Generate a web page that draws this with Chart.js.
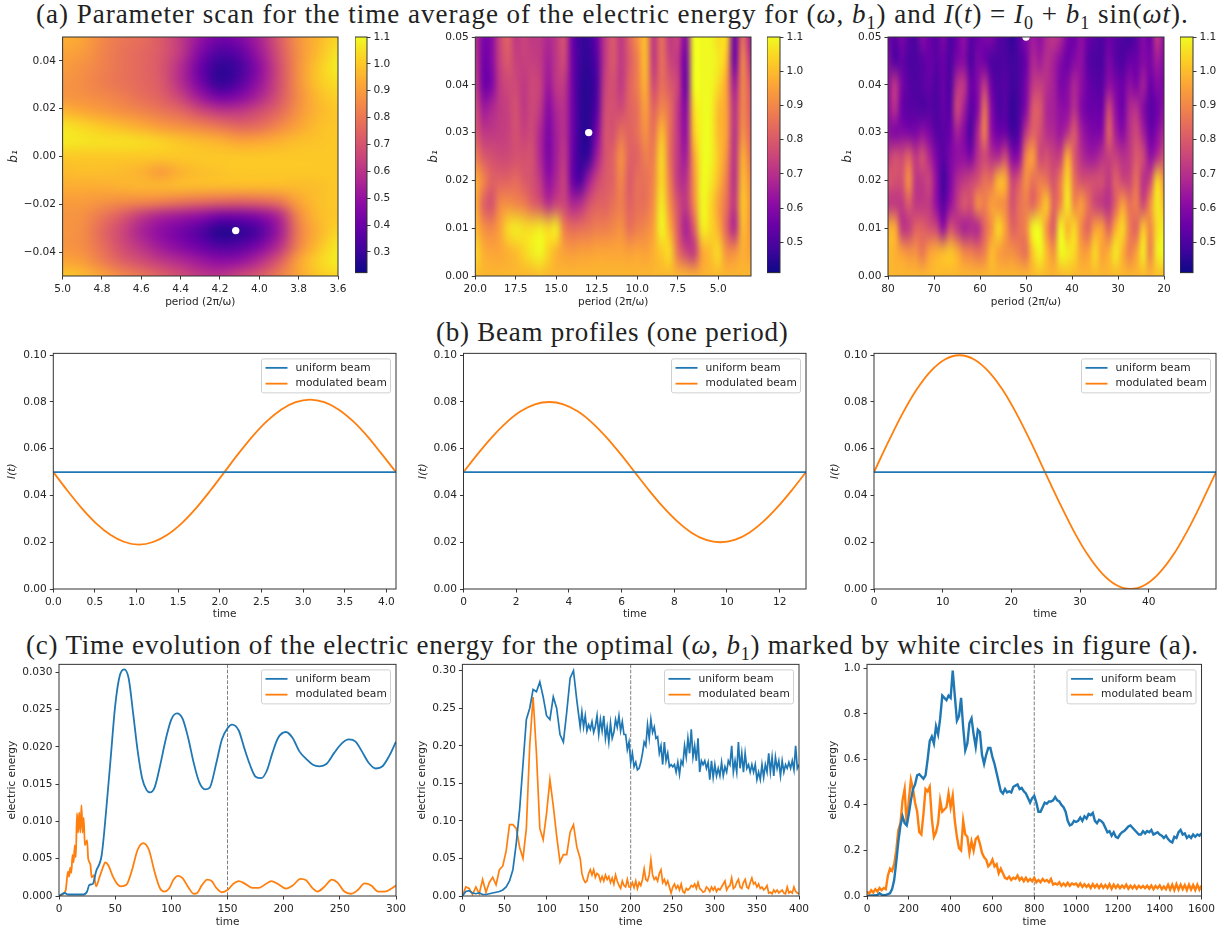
<!DOCTYPE html>
<html>
<head>
<meta charset="utf-8">
<title>Parameter scan and beam profiles</title>
<script src="https://cdn.jsdelivr.net/npm/chart.js@4"></script>
<style>
  html, body { margin: 0; background: #fff; }
  body { position: relative; width: 1231px; height: 934px; overflow: hidden; }
  canvas { position: absolute; }
  .heading {
    position: absolute; white-space: nowrap; color: #222;
    font-family: "Liberation Serif", serif; font-size: 27px; line-height: 30px;
  }
  .heading sub { font-size: 18px; line-height: 0; }
</style>
</head>
<body>
<div class="heading" id="title-a" style="left:36px;top:-1px;letter-spacing:0.99px">(a) Parameter scan for the time average of the electric energy for (<i>ω</i>, <i>b</i><sub>1</sub>) and <i>I</i>(<i>t</i>) = <i>I</i><sub>0</sub> + <i>b</i><sub>1</sub> sin(<i>ωt</i>).</div>
<div class="heading" id="title-b" style="left:436px;top:317px;letter-spacing:0.75px">(b) Beam profiles (one period)</div>
<div class="heading" id="title-c" style="left:26px;top:630px;letter-spacing:0.79px">(c) Time evolution of the electric energy for the optimal (<i>ω</i>, <i>b</i><sub>1</sub>) marked by white circles in figure (a).</div>

<script>
// --- (a) parameter scans, energy values in hundredths, rows run from the top of the plot down
const scan1Periods = [5.0,4.9,4.8,4.7,4.6,4.5,4.4,4.3,4.2,4.1,4.0,3.9,3.8,3.7,3.6];
const scan1Amps = [0.05,0.04375,0.0375,0.03125,0.025,0.01875,0.0125,0.00625,0,-0.00625,-0.0125,-0.01875,-0.025,-0.03125,-0.0375,-0.04375,-0.05];
const scan1Energy = [
  [95,92,85,80,78,72,62,50,42,45,55,72,88,96,103],
  [92,90,84,79,76,72,62,45,34,38,52,70,87,97,106],
  [90,87,83,79,76,71,58,40,28,32,48,68,87,100,108],
  [88,86,82,79,76,72,58,42,28,35,50,68,87,100,105],
  [88,87,85,82,78,74,65,52,42,46,56,70,86,97,102],
  [96,93,90,87,84,80,76,68,62,62,68,76,88,96,100],
  [106,103,100,97,94,90,87,84,80,76,78,85,92,98,100],
  [107,106,105,105,104,102,99,97,95,92,93,95,98,99,100],
  [100,100,100,100,100,100,100,100,100,100,100,100,100,100,100],
  [97,98,98,97,95,90,95,98,99,100,100,100,100,100,100],
  [94,94,94,95,96,96,97,97,97,97,97,97,97,98,100],
  [90,90,88,86,85,83,80,78,76,75,76,80,92,98,100],
  [88,87,80,72,62,55,52,48,42,42,46,56,85,97,100],
  [88,86,76,66,55,48,42,35,26,28,34,52,82,95,103],
  [88,86,78,68,60,52,46,40,34,36,44,58,84,98,107],
  [92,90,82,74,68,62,57,52,48,50,58,72,92,102,108],
  [100,97,92,85,80,74,68,62,60,66,72,82,92,100,103]
];

const scan2Periods = [20,19.5,19,18.5,18,17.5,17,16.5,16,15.5,15,14.5,14,13.5,13,12.5,12,11.5,11,10.5,10,9.5,9,8.5,8,7.5,7,6.5,6,5.5,5,4.5,4,3.5,3];
const scan2Amps = [0.05,0.045,0.04,0.035,0.03,0.025,0.02,0.015,0.01,0.005,0];
const scan2Energy = [
  [70,58,60,75,82,72,75,72,72,68,72,78,55,47,47,55,72,80,72,82,92,100,72,85,72,75,60,110,110,110,105,105,55,85,65],
  [72,56,60,74,80,74,74,74,72,66,72,76,56,47,46,52,72,80,72,80,88,100,72,85,75,72,56,110,110,110,108,100,55,90,70],
  [74,56,58,72,76,76,72,76,74,64,72,72,56,46,45,50,74,78,72,82,88,98,76,85,80,75,55,110,110,110,105,95,65,90,78],
  [78,65,68,72,74,78,72,76,72,60,68,70,56,46,45,52,76,78,76,82,85,95,82,90,85,72,60,105,110,110,100,95,70,90,80],
  [80,72,72,73,74,78,74,76,68,58,66,70,56,46,45,58,78,78,85,82,85,92,85,100,85,72,62,102,110,110,100,95,70,92,82],
  [88,80,78,76,76,78,78,78,68,58,66,72,55,46,47,65,78,82,92,82,82,88,88,105,85,72,65,95,110,110,102,92,70,98,85],
  [98,90,82,82,82,84,80,78,72,62,68,74,55,50,65,75,80,82,90,80,85,85,90,105,88,72,70,92,110,108,100,88,70,100,90],
  [98,82,78,90,92,90,88,82,78,70,75,75,68,70,78,82,82,85,88,82,85,85,92,108,92,78,72,90,110,105,95,85,72,102,92],
  [100,92,90,95,105,108,106,106,108,105,108,88,84,85,86,88,88,90,92,85,88,90,95,110,98,80,66,80,108,105,98,82,68,100,92],
  [105,98,96,96,98,100,104,108,110,104,98,95,94,95,95,96,96,96,96,95,96,95,98,102,105,85,75,72,95,100,105,92,92,98,95],
  [100,99,99,99,99,99,99,99,100,99,99,99,99,99,99,99,99,99,99,99,99,99,99,99,99,99,99,98,98,99,99,99,99,99,99]
];

const scan3Periods = [80,78.5,77,75.5,74,72.5,71,69.5,68,66.5,65,63.5,62,60.5,59,57.5,56,54.5,53,51.5,50,48.5,47,45.5,44,42.5,41,39.5,38,36.5,35,33.5,32,30.5,29,27.5,26,24.5,23,21.5,20];
const scan3Amps = [0.05,0.045,0.04,0.035,0.03,0.025,0.02,0.015,0.01,0.005,0];
const scan3Energy = [
  [56,52,58,52,50,60,55,52,58,50,55,62,52,55,58,58,52,50,46,52,60,65,62,68,72,68,58,55,62,55,52,50,55,52,50,48,52,60,55,72,62],
  [60,50,54,50,50,52,55,52,55,50,58,60,50,58,55,50,50,50,48,50,55,68,65,70,66,60,55,60,62,52,50,50,58,52,50,55,55,60,58,65,60],
  [62,72,58,52,50,52,54,50,55,50,70,72,55,60,72,55,50,52,48,50,58,72,74,70,66,58,60,68,62,55,52,52,62,58,55,62,58,66,55,60,58],
  [62,70,55,52,52,50,52,50,54,52,76,66,52,60,85,60,50,52,46,50,60,80,80,68,66,62,62,70,60,55,55,55,76,62,55,68,70,60,52,55,62],
  [62,58,60,58,58,62,58,52,52,55,66,60,50,68,88,62,55,55,48,52,72,82,78,70,68,64,70,80,66,60,58,60,82,66,60,70,76,66,55,60,68],
  [72,78,76,82,72,78,68,58,52,58,62,62,58,70,76,70,68,76,60,62,90,95,76,78,74,74,98,80,70,65,65,70,74,74,70,72,80,76,62,68,78],
  [80,78,78,92,72,72,75,62,48,58,68,72,75,78,85,85,100,98,75,80,92,85,88,85,78,88,105,85,78,78,78,78,72,82,75,75,85,70,75,105,92],
  [72,72,72,80,72,72,72,62,52,62,72,80,78,92,88,95,92,90,78,85,88,82,92,102,82,90,108,90,95,85,75,72,70,82,95,85,88,75,92,108,100],
  [98,98,72,72,82,82,78,75,62,78,72,66,68,68,82,92,105,95,82,85,90,110,110,92,80,110,98,105,90,82,95,95,82,98,105,88,82,102,90,105,108],
  [100,98,95,92,92,86,95,98,100,102,98,90,88,85,88,100,95,92,92,88,85,102,110,100,92,110,108,105,95,95,105,95,98,108,98,88,95,108,88,108,110],
  [99,99,99,99,99,99,99,100,99,99,99,99,99,99,99,99,99,99,99,99,99,99,100,99,99,99,100,99,99,99,99,99,99,99,99,99,99,99,99,100,100]
];

const optimalPeriod = [4.12, 13, 50];
const optimalAmp = [-0.031, 0.03, 0.05];
const scanColorMin = [0.2227, 0.411, 0.411];
const colorTicks1 = [0.3,0.4,0.5,0.6,0.7,0.8,0.9,1.0,1.1];
const colorTicks2 = [0.5,0.6,0.7,0.8,0.9,1.0,1.1];
const plasmaStops = ['#0d0887','#41049d','#6a00a8','#8f0da4','#b12a90','#cc4778','#e16462','#f1844b','#fca636','#fcce25','#f0f921'];

// --- (b) beam profiles over one period
const profileTime1 = [0,0.171,0.343,0.514,0.685,0.856,1.028,1.199,1.37,1.541,1.713,1.884,2.055,2.226,2.398,2.569,2.74,2.911,3.083,3.254,3.425,3.596,3.768,3.939,4.116];
const profileBeam1 = [0.05,0.042,0.0345,0.0281,0.0232,0.0201,0.019,0.0201,0.0232,0.0281,0.0345,0.042,0.05,0.058,0.0655,0.0719,0.0768,0.0799,0.081,0.0799,0.0768,0.0719,0.0655,0.058,0.05];
const profileTime2 = [0,0.542,1.083,1.625,2.167,2.708,3.25,3.792,4.333,4.875,5.417,5.958,6.5,7.042,7.583,8.125,8.667,9.208,9.75,10.292,10.833,11.375,11.917,12.458,13];
const profileBeam2 = [0.05,0.0578,0.065,0.0712,0.076,0.079,0.08,0.079,0.076,0.0712,0.065,0.0578,0.05,0.0422,0.035,0.0288,0.024,0.021,0.02,0.021,0.024,0.0288,0.035,0.0422,0.05];
const profileTime3 = [0,2.08,4.15,6.23,8.3,10.38,12.45,14.53,16.6,18.68,20.75,22.83,24.9,26.98,29.05,31.13,33.2,35.28,37.35,39.43,41.5,43.58,45.65,47.73,49.8];
const profileBeam3 = [0.05,0.0629,0.075,0.0854,0.0933,0.0983,0.1,0.0983,0.0933,0.0854,0.075,0.0629,0.05,0.0371,0.025,0.0146,0.0067,0.0017,0,0.0017,0.0067,0.0146,0.025,0.0371,0.05];
const uniformCurrent = [0.05, 0.05];

// --- (c) electric energy over time
const energy1UniformT = [0,5,8,15,22,25,27,30,33,38,42,46,50,54,58,62,66,70,74,78,81,85,90,95,100,105,110,115,120,125,130,134,140,145,150,154,160,165,170,175,180,185,190,195,202,208,214,220,226,232,238,245,252,258,264,270,276,282,288,294,300];
const energy1Uniform = [0,0.0004,0.0002,0.0002,0.0002,0.0006,0.0015,0.0016,0.0033,0.0055,0.0115,0.0185,0.0255,0.0295,0.0304,0.0292,0.0245,0.0195,0.0158,0.0142,0.0139,0.0145,0.0175,0.021,0.0237,0.0245,0.0238,0.0212,0.0178,0.0152,0.0143,0.0145,0.0178,0.021,0.0225,0.023,0.0222,0.0198,0.0176,0.016,0.0158,0.0168,0.0192,0.0212,0.022,0.0212,0.0194,0.0184,0.0176,0.0174,0.0177,0.0192,0.0205,0.021,0.0207,0.0193,0.0178,0.0171,0.0174,0.0188,0.0207];
const energy1ModulatedT = [0,3,6,8,9,10,11,12,13,14,15,16,17,18,19,20,21,22,23,25,26,28,29,31,33,36,40,41,44,48,52,55,60,65,70,75,80,85,90,94,98,102,106,110,115,120,123,127,132,136,140,145,150,155,160,165,172,178,184,189,195,202,208,215,220,226,230,236,243,248,254,260,266,272,278,284,290,296,300];
const energy1Modulated = [0,0.0002,0.0008,0.0033,0.0026,0.0038,0.0031,0.0055,0.0045,0.0068,0.0052,0.0111,0.0085,0.0112,0.0085,0.0122,0.0085,0.0105,0.0068,0.0075,0.005,0.0042,0.0025,0.0028,0.0013,0.0025,0.0042,0.0045,0.0041,0.0026,0.0016,0.0013,0.0015,0.0035,0.0062,0.0071,0.0062,0.0033,0.001,0.0006,0.001,0.0022,0.0027,0.0024,0.0012,0.0003,0.0004,0.0014,0.0022,0.002,0.0011,0.0005,0.0008,0.0016,0.002,0.0017,0.0011,0.0011,0.0016,0.002,0.0016,0.001,0.0014,0.0023,0.0021,0.001,0.0006,0.0012,0.0022,0.0018,0.0006,0.0003,0.0008,0.0017,0.0014,0.0006,0.0006,0.001,0.0014];

const energy2Time = [0,4,8,12,16,20,24,28,32,36,40,44,48,52,56,60,64,68,72,76,80,84,88,92,96,100,104,108,112,116,120,124,128,132,136,140,142,144,146,148,150,152,154,156,158,160,162,164,166,168,170,172,174,176,178,180,182,184,186,188,190,192,194,196,198,200,202,204,206,208,210,212,214,216,218,220,222,224,226,228,230,232,234,236,238,240,242,244,246,248,250,252,254,256,258,260,262,264,266,268,270,272,274,276,278,280,282,284,286,288,290,292,294,296,298,300,302,304,306,308,310,312,314,316,318,320,322,324,326,328,330,332,334,336,338,340,342,344,346,348,350,352,354,356,358,360,362,364,366,368,370,372,374,376,378,380,382,384,386,388,390,392,394,396,398,400];
const energy2Uniform = [0,0.006,0.007,0.004,0.003,0.004,0.002,0.002,0.003,0.004,0.005,0.006,0.008,0.012,0.02,0.035,0.07,0.115,0.175,0.235,0.25,0.275,0.272,0.285,0.265,0.24,0.235,0.265,0.25,0.215,0.205,0.245,0.29,0.3,0.26,
  0.225,0.245,0.225,0.24,0.22,0.228,0.222,0.232,0.218,0.226,0.24,0.215,0.235,0.22,0.24,0.21,0.225,0.205,0.23,0.21,0.218,0.235,0.225,0.24,0.22,0.232,0.215,0.215,0.195,0.205,0.178,0.19,0.172,0.178,0.168,0.17,0.178,0.19,0.205,0.2,0.228,0.21,0.235,0.218,0.225,0.21,0.212,0.19,0.2,0.175,0.205,0.18,0.19,0.172,0.175,0.172,0.175,0.165,0.178,0.162,0.18,0.175,0.2,0.185,0.21,0.19,0.222,0.185,0.2,0.18,0.21,0.165,0.18,0.175,0.18,0.17,0.178,0.155,0.18,0.158,0.175,0.16,0.17,0.16,0.178,0.16,0.172,0.165,0.18,0.175,0.2,0.165,0.18,0.165,0.205,0.17,0.19,0.165,0.19,0.17,0.175,0.165,0.175,0.165,0.175,0.155,0.165,0.155,0.175,0.158,0.175,0.165,0.19,0.165,0.185,0.16,0.185,0.17,0.18,0.16,0.18,0.165,0.175,0.17,0.178,0.17,0.18,0.168,0.2,0.17,0.175];
const energy2Modulated = [0,0.012,0.01,0.002,0.012,0.003,0.022,0.005,0.018,0.025,0.015,0.035,0.04,0.06,0.095,0.095,0.09,0.065,0.05,0.09,0.2,0.265,0.19,0.09,0.075,0.11,0.155,0.12,0.08,0.045,0.055,0.055,0.085,0.095,0.065,
  0.05,0.03,0.022,0.018,0.02,0.03,0.035,0.028,0.035,0.025,0.03,0.028,0.02,0.026,0.02,0.028,0.022,0.026,0.018,0.024,0.016,0.028,0.02,0.014,0.01,0.02,0.014,0.012,0.022,0.012,0.012,0.018,0.011,0.02,0.01,0.018,0.014,0.022,0.036,0.022,0.02,0.028,0.048,0.028,0.022,0.025,0.02,0.03,0.035,0.018,0.022,0.015,0.02,0.012,0.004,0.012,0.016,0.01,0.014,0.008,0.016,0.006,0.004,0.01,0.008,0.01,0.014,0.012,0.016,0.01,0.018,0.01,0.008,0.005,0.006,0.012,0.01,0.006,0.012,0.008,0.012,0.006,0.01,0.008,0.012,0.016,0.02,0.008,0.012,0.014,0.024,0.01,0.012,0.018,0.022,0.012,0.01,0.018,0.022,0.012,0.01,0.018,0.024,0.016,0.018,0.012,0.016,0.01,0.012,0.008,0.01,0.014,0.004,0.005,0.003,0.008,0.005,0.008,0.004,0.006,0.008,0.004,0.003,0.012,0.004,0.006,0.004,0.012,0.006,0.004,0.003];

const energy3Time = [0,10,20,30,40,50,60,70,80,90,100,110,120,130,140,150,160,170,180,190,200,210,220,230,240,250,260,270,280,290,300,310,320,330,340,350,360,370,380,390,400,410,420,430,440,450,460,470,480,490,500,510,520,530,540,550,560,570,580,590,600,610,620,630,640,650,660,670,680,690,700,710,720,730,740,750,760,770,780,790,800,810,820,830,840,850,860,870,880,890,900,910,920,930,940,950,960,970,980,990,1000,1010,1020,1030,1040,1050,1060,1070,1080,1090,1100,1110,1120,1130,1140,1150,1160,1170,1180,1190,1200,1210,1220,1230,1240,1250,1260,1270,1280,1290,1300,1310,1320,1330,1340,1350,1360,1370,1380,1390,1400,1410,1420,1430,1440,1450,1460,1470,1480,1490,1500,1510,1520,1530,1540,1550,1560,1570,1580,1590,1600];
const energy3Uniform = [0,0,0.002,0.002,0.003,0.005,0.012,0.006,0.004,0.005,0.008,0.012,0.03,0.07,0.15,0.24,0.31,0.35,0.32,0.31,0.36,0.42,0.47,0.49,0.53,0.535,0.525,0.515,0.53,0.6,0.68,0.7,0.67,0.745,0.71,0.78,0.88,0.87,0.86,0.88,0.87,0.99,0.88,0.77,0.79,0.87,0.74,0.64,0.67,0.76,0.78,0.71,0.655,0.73,0.72,0.62,0.58,0.62,0.65,0.65,0.61,0.58,0.54,0.5,0.46,0.45,0.47,0.455,0.46,0.455,0.48,0.485,0.49,0.47,0.475,0.46,0.45,0.43,0.41,0.43,0.44,0.41,0.37,0.37,0.39,0.41,0.405,0.415,0.415,0.42,0.435,0.42,0.415,0.4,0.39,0.37,0.33,0.31,0.315,0.33,0.325,0.33,0.345,0.33,0.35,0.34,0.36,0.355,0.365,0.33,0.32,0.335,0.33,0.32,0.3,0.28,0.285,0.265,0.28,0.26,0.255,0.27,0.28,0.285,0.295,0.305,0.31,0.3,0.29,0.28,0.27,0.27,0.285,0.275,0.285,0.28,0.29,0.27,0.275,0.28,0.27,0.265,0.255,0.265,0.25,0.24,0.235,0.26,0.255,0.28,0.29,0.27,0.275,0.255,0.265,0.255,0.27,0.26,0.27,0.265,0.275];
const energy3Modulated = [0.02,0.01,0.025,0.015,0.03,0.02,0.035,0.025,0.035,0.03,0.09,0.12,0.11,0.14,0.2,0.29,0.32,0.42,0.47,0.31,0.42,0.51,0.47,0.41,0.37,0.28,0.27,0.36,0.47,0.46,0.48,0.34,0.26,0.28,0.32,0.42,0.37,0.38,0.39,0.45,0.39,0.44,0.33,0.26,0.21,0.2,0.33,0.27,0.26,0.19,0.24,0.2,0.25,0.26,0.23,0.19,0.17,0.16,0.13,0.14,0.16,0.13,0.14,0.1,0.12,0.1,0.08,0.075,0.085,0.07,0.08,0.075,0.09,0.07,0.08,0.065,0.08,0.065,0.075,0.065,0.08,0.06,0.07,0.06,0.075,0.065,0.07,0.06,0.075,0.05,0.055,0.05,0.06,0.045,0.055,0.045,0.058,0.045,0.055,0.05,0.055,0.042,0.055,0.04,0.052,0.04,0.05,0.035,0.052,0.038,0.05,0.035,0.05,0.036,0.048,0.035,0.052,0.032,0.05,0.036,0.048,0.034,0.046,0.036,0.05,0.032,0.045,0.034,0.046,0.032,0.045,0.036,0.044,0.034,0.045,0.032,0.046,0.03,0.044,0.034,0.046,0.03,0.042,0.03,0.05,0.028,0.05,0.026,0.052,0.028,0.05,0.03,0.048,0.026,0.05,0.028,0.048,0.026,0.05,0.028,0.046,0.03,0.04];

const marker1 = 150, marker2 = 200, marker3 = 800;
const blue = '#1f77b4', orange = '#ff7f0e', axisFont = 'DejaVu Sans', textColor = '#262626';

function plasma(t) {
  const pos = Math.min(Math.max(t, 0), 1) * (plasmaStops.length - 1);
  const i = Math.min(Math.floor(pos), plasmaStops.length - 2);
  const a = parseInt(plasmaStops[i].slice(1), 16), b = parseInt(plasmaStops[i + 1].slice(1), 16);
  const f = pos - i;
  const mix = s => Math.round(((a >> s) & 255) * (1 - f) + ((b >> s) & 255) * f);
  return [mix(16), mix(8), mix(0)];
}

function fmt(v, digits) {
  return v.toFixed(digits).replace('-', '\u2212');
}

function zip(xs, ys) {
  return ys.map((y, i) => ({ x: xs[i], y }));
}

function axis(opts) {
  const cfg = {
    type: 'linear',
    min: opts.min, max: opts.max, reverse: !!opts.reverse,
    position: opts.position,
    afterBuildTicks: s => { s.ticks = opts.ticks.map(v => ({ value: v })); },
    afterFit: s => { if (opts.fit) { if (s.isHorizontal()) s.height = opts.fit; else s.width = opts.fit; } },
    ticks: {
      autoSkip: false, maxRotation: 0, padding: 3, color: textColor,
      font: { family: axisFont, size: 10.6 },
      callback: v => fmt(v, opts.digits)
    },
    grid: { drawOnChartArea: false, drawTicks: true, tickLength: 3.5, color: '#222', lineWidth: 0.9 },
    border: { display: false }
  };
  if (opts.title) {
    cfg.title = {
      display: true, text: opts.title, color: textColor, padding: 0,
      font: { family: axisFont, size: opts.titleSize || 10.5, style: opts.titleItalic ? 'italic' : 'normal' }
    };
  }
  return cfg;
}

const framePlugin = {
  id: 'frame',
  afterDatasetsDraw(chart) {
    const a = chart.chartArea, ctx = chart.ctx;
    ctx.save();
    ctx.strokeStyle = '#333';
    ctx.lineWidth = 1;
    ctx.strokeRect(a.left, a.top, a.right - a.left, a.bottom - a.top);
    ctx.restore();
  }
};

const legendPlugin = {
  id: 'beamLegend',
  afterDatasetsDraw(chart) {
    const a = chart.chartArea, ctx = chart.ctx;
    const w = 129, h = 34, left = a.right - 5.5 - w, top = a.top + 5.5;
    ctx.save();
    ctx.beginPath();
    ctx.roundRect(left, top, w, h, 2);
    ctx.fillStyle = 'rgba(255,255,255,0.8)';
    ctx.fill();
    ctx.strokeStyle = '#d0d0d0';
    ctx.lineWidth = 1;
    ctx.stroke();
    ctx.font = '10.7px "DejaVu Sans"';
    ctx.textBaseline = 'middle';
    chart.data.datasets.filter(d => d.label).forEach((d, i) => {
      const y = top + 9 + i * 15.8;
      ctx.strokeStyle = d.borderColor;
      ctx.lineWidth = 1.8;
      ctx.beginPath();
      ctx.moveTo(left + 4, y);
      ctx.lineTo(left + 26, y);
      ctx.stroke();
      ctx.fillStyle = textColor;
      ctx.fillText(d.label, left + 34, y);
    });
    ctx.restore();
  }
};

// paints the energy grid through the chart scales, smoothed like imshow
function heatPlugin(periods, amps, energy, vmin, vmax) {
  const off = document.createElement('canvas');
  off.width = periods.length;
  off.height = amps.length;
  const offCtx = off.getContext('2d');
  const img = offCtx.createImageData(off.width, off.height);
  energy.forEach((row, r) => row.forEach((v, c) => {
    const rgb = plasma((v / 100 - vmin) / (vmax - vmin));
    const k = (r * off.width + c) * 4;
    img.data[k] = rgb[0]; img.data[k + 1] = rgb[1]; img.data[k + 2] = rgb[2]; img.data[k + 3] = 255;
  }));
  offCtx.putImageData(img, 0, 0);
  return {
    id: 'heat',
    beforeDatasetsDraw(chart) {
      const a = chart.chartArea, ctx = chart.ctx;
      const x = chart.scales.x, y = chart.scales.y;
      const dx = (periods[1] - periods[0]) / 2, dy = (amps[1] - amps[0]) / 2;
      const x0 = x.getPixelForValue(periods[0] - dx), x1 = x.getPixelForValue(periods[periods.length - 1] + dx);
      const y0 = y.getPixelForValue(amps[0] - dy), y1 = y.getPixelForValue(amps[amps.length - 1] + dy);
      ctx.save();
      ctx.beginPath();
      ctx.rect(a.left, a.top, a.right - a.left, a.bottom - a.top);
      ctx.clip();
      ctx.imageSmoothingEnabled = true;
      ctx.imageSmoothingQuality = 'high';
      ctx.drawImage(off, x0, y0, x1 - x0, y1 - y0);
      ctx.restore();
    }
  };
}

function colorbarPlugin(vmin, vmax) {
  return {
    id: 'colorbar',
    beforeDatasetsDraw(chart) {
      const a = chart.chartArea, ctx = chart.ctx, y = chart.scales.y;
      for (let p = Math.floor(a.top); p < a.bottom; p++) {
        const rgb = plasma((y.getValueForPixel(p + 0.5) - vmin) / (vmax - vmin));
        ctx.fillStyle = 'rgb(' + rgb.join(',') + ')';
        ctx.fillRect(a.left, p, a.right - a.left, 1);
      }
    }
  };
}

// pad.inner: space kept free by layout padding rather than by a fitted axis
function panel(rect, pad, config) {
  const canvas = document.createElement('canvas');
  canvas.width = Math.round(rect.w + pad.left + pad.right);
  canvas.height = Math.round(rect.h + pad.top + pad.bottom);
  canvas.style.left = (rect.x - pad.left) + 'px';
  canvas.style.top = (rect.y - pad.top) + 'px';
  document.body.appendChild(canvas);
  config.options.responsive = false;
  config.options.animation = false;
  config.options.devicePixelRatio = 1;
  const inner = pad.inner || { right: pad.right, bottom: 0 };
  config.options.layout = { padding: { top: pad.top, right: inner.right, left: 0, bottom: inner.bottom } };
  config.options.plugins = { legend: { display: false }, tooltip: { enabled: false } };
  return new Chart(canvas, config);
}

function lineSet(label, xs, ys, color, smooth, width) {
  return {
    label, data: zip(xs, ys), showLine: true, borderColor: color, backgroundColor: color,
    borderWidth: width || 1.8, pointRadius: 0, cubicInterpolationMode: smooth ? 'monotone' : 'default'
  };
}

function markerSet(t, top) {
  return {
    data: [{ x: t, y: 0 }, { x: t, y: top }], showLine: true, borderColor: '#808080',
    borderWidth: 1, borderDash: [3.7, 1.6], pointRadius: 0
  };
}

// --- (a) row
const scanPanels = [
  { x: 62.3, w: 275.4, left: 55.6, periods: scan1Periods, amps: scan1Amps, energy: scan1Energy, xMin: 3.6, xMax: 5, xTicks: [5,4.8,4.6,4.4,4.2,4,3.8,3.6], xDigits: 1, yMin: -0.05, yMax: 0.05, yTicks: [-0.04,-0.02,0,0.02,0.04], bar: 355, barW: 12, barTicks: colorTicks1 },
  { x: 475.3, w: 275.4, left: 48.3, periods: scan2Periods, amps: scan2Amps, energy: scan2Energy, xMin: 2.98, xMax: 20, xTicks: [20,17.5,15,12.5,10,7.5,5], xDigits: 1, yMin: 0, yMax: 0.05, yTicks: [0,0.01,0.02,0.03,0.04,0.05], bar: 767.3, barW: 13, barTicks: colorTicks2 },
  { x: 887.7, w: 276, left: 47, periods: scan3Periods, amps: scan3Amps, energy: scan3Energy, xMin: 20, xMax: 80, xTicks: [80,70,60,50,40,30,20], xDigits: 0, yMin: 0, yMax: 0.05, yTicks: [0,0.01,0.02,0.03,0.04,0.05], bar: 1180, barW: 13, barTicks: colorTicks2 }
];

scanPanels.forEach((p, i) => {
  panel({ x: p.x, y: 36.5, w: p.w, h: 238.5 }, { left: p.left, right: 14, top: 10, bottom: 33 }, {
    type: 'scatter',
    data: { datasets: [{ data: [{ x: optimalPeriod[i], y: optimalAmp[i] }], pointRadius: 3.7, pointBackgroundColor: '#fff', pointBorderWidth: 0 }] },
    options: {
      scales: {
        x: axis({ min: p.xMin, max: p.xMax, reverse: true, ticks: p.xTicks, digits: p.xDigits, title: 'period (2π/ω)', fit: 33 }),
        y: axis({ min: p.yMin, max: p.yMax, ticks: p.yTicks, digits: 2, title: 'b₁', titleItalic: true, titleSize: 12, fit: p.left })
      }
    },
    plugins: [heatPlugin(p.periods, p.amps, p.energy, scanColorMin[i], 1.1), framePlugin]
  });
  panel({ x: p.bar, y: 36.5, w: p.barW, h: 238.5 }, { left: 0, right: 32, top: 10, bottom: 6, inner: { right: 0, bottom: 6 } }, {
    type: 'scatter',
    data: { datasets: [{ data: [] }] },
    options: {
      scales: {
        x: { type: 'linear', display: false, min: 0, max: 1 },
        y: axis({ min: scanColorMin[i], max: 1.1, ticks: p.barTicks, digits: 1, position: 'right', fit: 32 })
      }
    },
    plugins: [colorbarPlugin(scanColorMin[i], 1.1), framePlugin]
  });
});

// --- (b) row
const profilePanels = [
  { x: 53.3, left: 47.3, time: profileTime1, beam: profileBeam1, xMax: 4.116, xTicks: [0,0.5,1,1.5,2,2.5,3,3.5,4], xDigits: 1 },
  { x: 463.5, left: 46.5, time: profileTime2, beam: profileBeam2, xMax: 13, xTicks: [0,2,4,6,8,10,12], xDigits: 0 },
  { x: 874, left: 45, time: profileTime3, beam: profileBeam3, xMax: 49.8, xTicks: [0,10,20,30,40], xDigits: 0 }
];

profilePanels.forEach(p => {
  panel({ x: p.x, y: 352.3, w: 342.4, h: 236.7 }, { left: p.left, right: 14, top: 8, bottom: 32 }, {
    type: 'scatter',
    data: { datasets: [
      lineSet('uniform beam', [0, p.xMax], uniformCurrent, blue, false),
      lineSet('modulated beam', p.time, p.beam, orange, true)
    ] },
    options: {
      scales: {
        x: axis({ min: 0, max: p.xMax, ticks: p.xTicks, digits: p.xDigits, title: 'time', fit: 32 }),
        y: axis({ min: 0, max: 0.1008, ticks: [0,0.02,0.04,0.06,0.08,0.1], digits: 2, title: 'I(t)', titleItalic: true, fit: p.left })
      }
    },
    plugins: [framePlugin, legendPlugin]
  });
});

// --- (c) row
const evolutionPanels = [
  { x: 59, left: 53, blueT: energy1UniformT, blueV: energy1Uniform, orangeT: energy1ModulatedT, orangeV: energy1Modulated, smooth: true, width: 1.8, xMax: 300, xTicks: [0,50,100,150,200,250,300], yMax: 0.03107, yTicks: [0,0.005,0.01,0.015,0.02,0.025,0.03], yDigits: 3, mark: marker1 },
  { x: 462.7, left: 46.4, blueT: energy2Time, blueV: energy2Uniform, orangeT: energy2Time, orangeV: energy2Modulated, smooth: false, width: 1.7, xMax: 400, xTicks: [0,50,100,150,200,250,300,350,400], yMax: 0.3084, yTicks: [0,0.05,0.1,0.15,0.2,0.25,0.3], yDigits: 2, mark: marker2 },
  { x: 866.7, left: 40, blueT: energy3Time, blueV: energy3Uniform, orangeT: energy3Time, orangeV: energy3Modulated, smooth: false, width: 2.4, xMax: 1600, xTicks: [0,200,400,600,800,1000,1200,1400,1600], yMax: 1.0174, yTicks: [0,0.2,0.4,0.6,0.8,1], yDigits: 1, mark: marker3 }
];

evolutionPanels.forEach(p => {
  panel({ x: p.x, y: 662.7, w: 336.7, h: 233.3 }, { left: p.left, right: 14, top: 8, bottom: 33 }, {
    type: 'scatter',
    data: { datasets: [
      lineSet('uniform beam', p.blueT, p.blueV, blue, p.smooth, p.width),
      lineSet('modulated beam', p.orangeT, p.orangeV, orange, p.smooth, p.width),
      markerSet(p.mark, p.yMax)
    ] },
    options: {
      scales: {
        x: axis({ min: 0, max: p.xMax, ticks: p.xTicks, digits: 0, title: 'time', fit: 33 }),
        y: axis({ min: 0, max: p.yMax, ticks: p.yTicks, digits: p.yDigits, title: 'electric energy', fit: p.left })
      }
    },
    plugins: [framePlugin, legendPlugin]
  });
});
</script>
</body>
</html>
